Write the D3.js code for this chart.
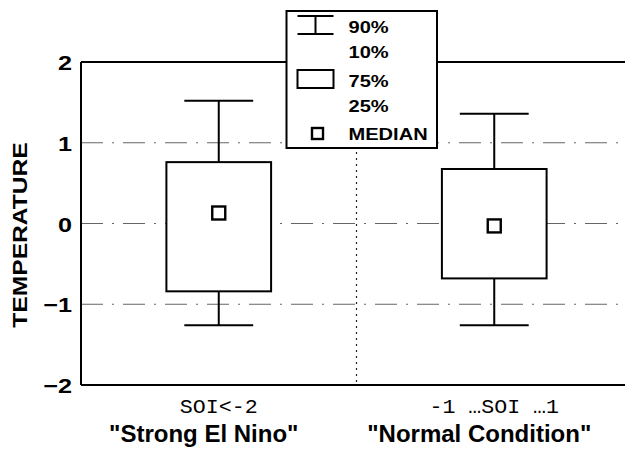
<!DOCTYPE html>
<html>
<head>
<meta charset="utf-8">
<script src="https://d3js.org/d3.v7.min.js"></script>
<style>
  html, body { margin: 0; padding: 0; background: #fff; }
  svg { font-family: 'Liberation Sans', Arial, Helvetica, sans-serif; }
</style>
</head>
<body>
<div id="chart"></div>
<script>
// categories (SOI ranges) and their descriptions
const categories = ['SOI<-2', '-1 \u2026SOI \u20261']
const subtitles = ['"Strong El Nino"', '"Normal Condition"']

// percentiles of temperature per category
const p90 = [1.52, 1.36]
const p75 = [0.76, 0.675]
const median = [0.13, -0.03]
const p25 = [-0.84, -0.68]
const p10 = [-1.26, -1.26]

const yTicks = [-2, -1, 0, 1, 2]
const gridTicks = [-1, 0, 1]
const legendLabels = ['90%', '10%', '75%', '25%', 'MEDIAN']

const width = 625, height = 456
const margin = {top: 62, right: -7, bottom: 71, left: 81}

const svg = d3.select('#chart')
  .append('svg')
  .attr('width', width)
  .attr('height', height)

const x = d3.scaleBand()
  .domain(categories)
  .range([margin.left, width - margin.right])

const y = d3.scaleLinear()
  .domain([-2, 2])
  .range([height - margin.bottom, margin.top])

// text in the original is wider than Arial, stretch it a bit
function widen(sel, k) {
  sel.each(function() {
    const len = this.getComputedTextLength()
    d3.select(this)
      .attr('textLength', len * k)
      .attr('lengthAdjust', 'spacingAndGlyphs')
  })
}

// dash-dot grid lines
svg.append('g')
  .selectAll('line')
  .data(gridTicks)
  .join('line')
  .attr('x1', margin.left)
  .attr('x2', width)
  .attr('y1', d => y(d))
  .attr('y2', d => y(d))
  .attr('stroke', '#666')
  .attr('stroke-width', 1)
  .attr('stroke-dasharray', '22,9,2,9')

// dotted separator between the two categories
svg.append('line')
  .attr('x1', x(categories[1]))
  .attr('x2', x(categories[1]))
  .attr('y1', y(2))
  .attr('y2', y(-2))
  .attr('stroke', '#222')
  .attr('stroke-width', 1.2)
  .attr('stroke-dasharray', '2,4')

// frame: left, top and bottom lines
const frame = svg.append('g')
  .attr('stroke', '#000')
  .attr('stroke-width', 2)
frame.append('line')
  .attr('x1', margin.left).attr('x2', margin.left)
  .attr('y1', y(2)).attr('y2', y(-2))
frame.append('line')
  .attr('x1', margin.left).attr('x2', width)
  .attr('y1', y(2)).attr('y2', y(2))
frame.append('line')
  .attr('x1', margin.left).attr('x2', width)
  .attr('y1', y(-2)).attr('y2', y(-2))

// y axis labels
const yAxis = svg.append('g')
  .attr('transform', `translate(${margin.left},0)`)
  .call(d3.axisLeft(y).tickValues(yTicks).tickSize(0).tickPadding(9).tickFormat(d3.format('d')))
yAxis.select('.domain').remove()
yAxis.selectAll('text')
  .attr('font-family', "'Liberation Sans', Arial, sans-serif")
  .attr('font-size', 21)
  .attr('font-weight', 'bold')
  .attr('fill', '#000')
  .attr('dy', '0.36em')
yAxis.selectAll('text').call(widen, 1.2)

// y title
svg.append('text')
  .attr('transform', 'translate(27,235) rotate(-90)')
  .attr('text-anchor', 'middle')
  .attr('font-size', 20.5)
  .attr('font-weight', 'bold')
  .text('TEMPERATURE')
  .call(widen, 1.2)

// boxes
const boxW = x.bandwidth() * 0.38
const capW = x.bandwidth() * 0.25
const cx = d => x(d) + x.bandwidth() / 2

const boxes = svg.append('g')
  .selectAll('g')
  .data(categories)
  .join('g')
  .attr('stroke', '#000')
  .attr('stroke-width', 2)
  .attr('fill', 'none')

// whisker stems
boxes.append('line')
  .attr('x1', d => cx(d)).attr('x2', d => cx(d))
  .attr('y1', (d, i) => y(p90[i])).attr('y2', (d, i) => y(p75[i]))
boxes.append('line')
  .attr('x1', d => cx(d)).attr('x2', d => cx(d))
  .attr('y1', (d, i) => y(p25[i])).attr('y2', (d, i) => y(p10[i]))
// caps
boxes.append('line')
  .attr('x1', d => cx(d) - capW / 2).attr('x2', d => cx(d) + capW / 2)
  .attr('y1', (d, i) => y(p90[i])).attr('y2', (d, i) => y(p90[i]))
boxes.append('line')
  .attr('x1', d => cx(d) - capW / 2).attr('x2', d => cx(d) + capW / 2)
  .attr('y1', (d, i) => y(p10[i])).attr('y2', (d, i) => y(p10[i]))
// box 25%-75%
boxes.append('rect')
  .attr('x', d => cx(d) - boxW / 2)
  .attr('width', boxW)
  .attr('y', (d, i) => y(p75[i]))
  .attr('height', (d, i) => y(p25[i]) - y(p75[i]))
  .attr('fill', '#fff')
// median square
boxes.append('rect')
  .attr('x', d => cx(d) - 6.5)
  .attr('y', (d, i) => y(median[i]) - 6.5)
  .attr('width', 13)
  .attr('height', 13)
  .attr('stroke-width', 2.4)

// category labels
svg.append('g')
  .selectAll('text')
  .data(categories)
  .join('text')
  .attr('x', d => cx(d))
  .attr('y', 413)
  .attr('text-anchor', 'middle')
  .attr('font-family', "'Liberation Mono', 'Courier New', monospace")
  .attr('font-size', 20)
  .text(d => d)
  .call(widen, 1.08)

svg.append('g')
  .selectAll('text')
  .data(subtitles)
  .join('text')
  .attr('x', (d, i) => cx(categories[i]) - 15)
  .attr('y', 442)
  .attr('text-anchor', 'middle')
  .attr('font-size', 24)
  .attr('font-weight', 'bold')
  .text(d => d)

// legend
const legend = svg.append('g')
  .attr('transform', 'translate(286.5,11)')
legend.append('rect')
  .attr('width', 150.5)
  .attr('height', 137)
  .attr('fill', '#fff')
  .attr('stroke', '#000')
  .attr('stroke-width', 2)

const sym = legend.append('g')
  .attr('stroke', '#000')
  .attr('stroke-width', 2)
  .attr('fill', 'none')
// whisker symbol
sym.append('line').attr('x1', 11).attr('x2', 47).attr('y1', 5).attr('y2', 5)
sym.append('line').attr('x1', 11).attr('x2', 47).attr('y1', 23).attr('y2', 23)
sym.append('line').attr('x1', 29).attr('x2', 29).attr('y1', 5).attr('y2', 23)
// box symbol
sym.append('rect').attr('x', 11).attr('y', 59).attr('width', 36).attr('height', 18)
// median symbol
sym.append('rect').attr('x', 25.5).attr('y', 117).attr('width', 11).attr('height', 11).attr('stroke-width', 2.4)

const rowY = [22, 47, 75.5, 101, 129]
legend.selectAll('text')
  .data(legendLabels)
  .join('text')
  .attr('x', 62)
  .attr('y', (d, i) => rowY[i])
  .attr('font-size', 17)
  .attr('font-weight', 'bold')
  .text(d => d)
  .call(widen, 1.18)
</script>
</body>
</html>
